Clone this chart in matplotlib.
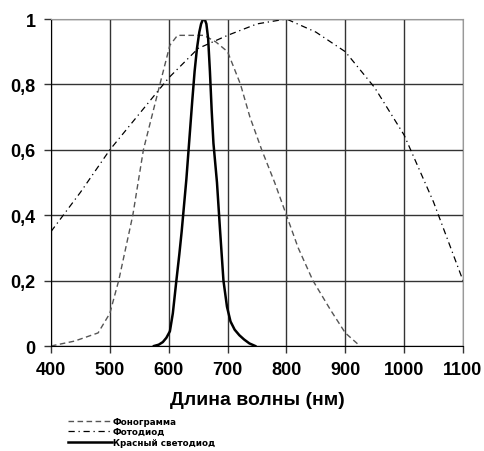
import matplotlib
matplotlib.use("Agg")
import matplotlib.pyplot as plt

# Data
phono_x = [400, 440, 480, 500, 515, 527, 539, 548, 557, 571, 585, 602, 615, 660, 680, 700, 722, 738, 758, 780, 800, 820, 845, 875, 900, 925]
phono_y = [0.0, 0.015, 0.04, 0.1, 0.2, 0.3, 0.4, 0.5, 0.6, 0.7, 0.8, 0.92, 0.95, 0.95, 0.93, 0.9, 0.8, 0.7, 0.6, 0.5, 0.4, 0.3, 0.2, 0.11, 0.04, 0.0]

diode_x = [400, 450, 500, 550, 600, 650, 700, 750, 800, 850, 900, 950, 1000, 1050, 1100]
diode_y = [0.35, 0.47, 0.6, 0.71, 0.82, 0.91, 0.95, 0.985, 1.0, 0.96, 0.9, 0.79, 0.645, 0.44, 0.2]

led_x = [575, 583, 590, 596, 602, 607, 613, 618, 622, 626, 630, 635, 640, 644, 648, 652, 655, 658, 661, 664, 667, 670, 673, 676, 679, 682, 687, 693, 699, 705, 712, 720, 728, 737, 747]
led_y = [0.0, 0.004, 0.012, 0.025, 0.045, 0.1, 0.2, 0.28, 0.35, 0.43, 0.51, 0.63, 0.75, 0.84, 0.91, 0.96, 0.985, 0.998, 1.0, 0.985, 0.94, 0.84, 0.72, 0.62, 0.56, 0.5, 0.36, 0.2, 0.12, 0.075, 0.05, 0.033, 0.02, 0.008, 0.0]

x_ticks = [400, 500, 600, 700, 800, 900, 1000, 1100]
y_ticks = [0, 0.2, 0.4, 0.6, 0.8, 1.0]
y_tick_labels = ["0", "0,2", "0,4", "0,6", "0,8", "1"]
labels = ["Фонограмма", "Фотодиод", "Красный светодиод"]
xlabel = "Длина волны (нм)"

plt.rcParams['font.family'] = ['Liberation Sans', 'DejaVu Sans']

fig = plt.figure(figsize=(4.84, 4.52), dpi=100)
ax = fig.add_axes([51/484, 1-347/452, 412/484, 327/452])

l1, = ax.plot(phono_x, phono_y, color='#555555', lw=1.0, ls=(0, (4, 2.5)))
l2, = ax.plot(diode_x, diode_y, color='black', lw=0.9, ls=(0, (5, 3, 1, 3)))
l3, = ax.plot(led_x, led_y, color='black', lw=1.8)

ax.set_xlim(400, 1100)
ax.set_ylim(0, 1)
ax.set_xticks(x_ticks)
ax.set_xticklabels([str(v) for v in x_ticks], fontsize=13, fontweight='bold')
ax.set_yticks(y_ticks)
ax.set_yticklabels(y_tick_labels, fontsize=13, fontweight='bold')
ax.grid(True, color='#333333', lw=1.0)
ax.set_axisbelow(True)
for s in ['top', 'right']:
    ax.spines[s].set_color('#999999')
for s in ['left', 'bottom']:
    ax.spines[s].set_color('black')
ax.tick_params(axis='both', length=5, width=1, color='#333333', pad=6)
ax.set_xlabel(xlabel, fontsize=14, fontweight='bold', labelpad=9)

fig.legend([l1, l2, l3], labels, loc='upper left', bbox_to_anchor=(68/484, 1-418/452),
           frameon=False, prop={'size': 6.3, 'weight': 'bold', 'family': 'DejaVu Sans'},
           handlelength=5.0, handletextpad=0.1, labelspacing=0.15, borderpad=0, borderaxespad=0)

fig.savefig("out.png", dpi=100)
